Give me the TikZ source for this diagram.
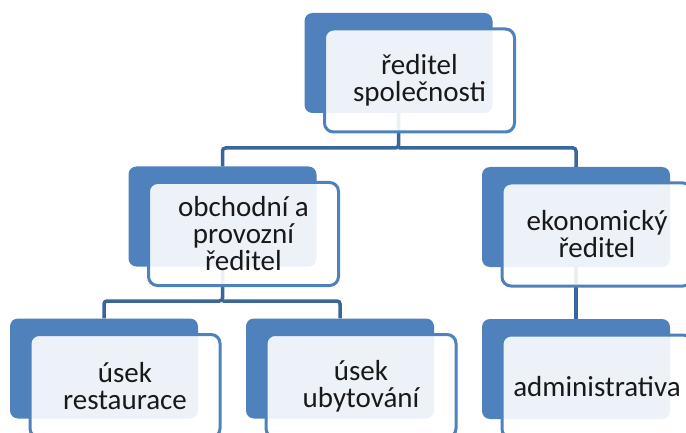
\documentclass[tikz,border=0pt]{standalone}
\usepackage{fontspec}
\setmainfont{Carlito}
\definecolor{backblue}{HTML}{4F81BD}
\definecolor{linkblue}{HTML}{3A6699}
\tikzset{
  backbox/.style={fill=backblue, draw=none, rounded corners=8pt, minimum width=188pt, minimum height=100pt, inner sep=0pt},
  frontbox/.style={draw=backblue, line width=3pt, fill=white, fill opacity=0.9, text opacity=1, rounded corners=9pt, minimum width=190pt, minimum height=103pt, inner sep=0pt, align=center, font=\fontsize{29}{27}\selectfont, text=black!90},
  link/.style={draw=linkblue, line width=3.5pt, rounded corners=3pt}
}
\begin{document}
\begin{tikzpicture}[x=1pt,y=-1pt]
\path[use as bounding box, fill=white] (0,0) rectangle (686,433);
\clip (0,0) rectangle (686,433);
% back boxes
\node[backbox] (b1) at (398.5,63) {};
\node[backbox] (b2) at (222.5,216.5) {};
\node[backbox] (b3) at (576,217) {};
\node[backbox] (b4) at (104,368.5) {};
\node[backbox] (b5) at (340,368.5) {};
\node[backbox] (b6) at (576,369) {};
% connectors
\coordinate (j1) at (398.5,148);
\coordinate (j2) at (222.5,301);
\draw[link] (b1.south) -- (j1) -| (b2.north);
\draw[link] (j1) -| (b3.north);
\draw[link] (b2.south) -- (j2) -| (b4.north);
\draw[link] (j2) -| (b5.north);
\draw[link] (b3.south) -- (b6.north);
% front boxes
\node[frontbox] (f1) at (419.5,80.5) {ředitel\\společnosti};
\node[frontbox] (f2) at (243.5,234) {obchodní a\\provozní\\ředitel};
\node[frontbox] (f3) at (597,234.5) {ekonomický\\ředitel};
\node[frontbox] (f4) at (125,386) {úsek\\restaurace};
\node[frontbox] (f5) at (361,386) {úsek\\ubytování};
\node[frontbox] (f6) at (597,386.5) {administrativa};
\end{tikzpicture}
\end{document}
